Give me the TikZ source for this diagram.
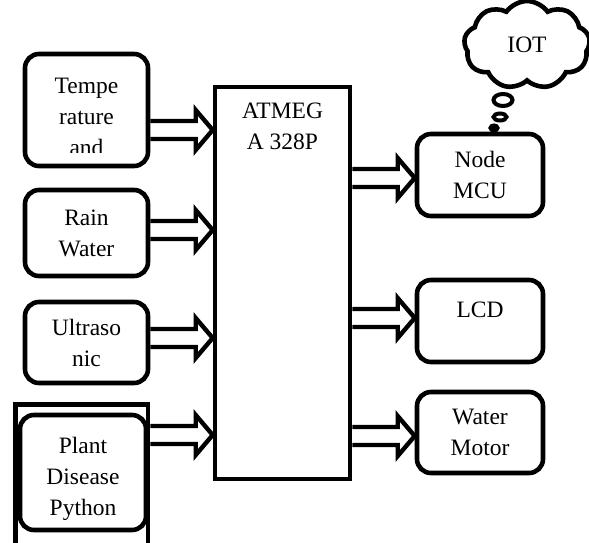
\documentclass[tikz,border=0pt]{standalone}
\usepackage{fontspec}
\setmainfont{Liberation Serif}
\usetikzlibrary{calc,shapes.geometric,shapes.symbols}

\tikzset{
  box/.style={draw, line width=4.6pt, rounded corners=14pt, minimum width=126pt, align=center, inner sep=0pt},
  chip/.style={draw, line width=4.6pt, minimum width=135pt, minimum height=392pt},
  fat/.style={line width=4.4pt, to path={let \p1=(\tikztostart), \p2=(\tikztotarget) in
    (\x1,\y1+9pt) -- (\x2-17pt,\y1+9pt) -- (\x2-17pt,\y1+20pt) -- (\x2,\y1)
    -- (\x2-17pt,\y1-20pt) -- (\x2-17pt,\y1-9pt) -- (\x1,\y1-9pt)}},
  bubble/.style={draw, ellipse, line width=4pt, inner sep=0pt},
}

\begin{document}
\begin{tikzpicture}[x=1pt,y=-1pt,font=\fontsize{23.5}{31}\selectfont]
\useasboundingbox (0,0) rectangle (589,542);

% inputs
\node[box, minimum width=123pt, minimum height=112pt] (temp) at (86.5,110) {};
\begin{scope}
\clip (temp.north west) rectangle ([yshift=16pt]temp.south east);
\node[align=center, inner sep=0pt] (temptxt) at ([yshift=-7pt]temp.center) {Tempe\\rature\\and};
\end{scope}
\node[box, minimum width=123pt, minimum height=86pt, text depth=0pt] (rain) at (86.5,233) {Rain\\Water};
\node[box, minimum width=123pt, minimum height=81pt, text depth=0pt] (ultra) at (86.5,342.5) {Ultraso\\nic};
\node[draw, line width=4.6pt, minimum width=132.5pt, minimum height=144pt] (frame) at (81.75,476.5) {};
\node[box, minimum height=115pt] (plant) at (83,472.5) {};
\node[align=center, inner sep=0pt] (planttxt) at ([yshift=-6pt]plant.center) {Plant\\Disease\\Python};

% controller
\node[chip] (atm) at (282.5,283) {};
\node[align=center, anchor=north, inner sep=0pt] (atmtxt) at (282.5,103) {ATMEG\\A 328P};

% outputs
\node[box, minimum height=82pt] (mcu) at (480,175) {Node\\MCU};
\node[box, minimum height=82pt, text depth=22pt] (lcd) at (480,321) {LCD};
\node[box, minimum height=81pt] (motor) at (480,432.5) {Water\\Motor};

% cloud
\node[cloud, draw, line width=4.6pt, cloud puffs=9, cloud puff arc=110, aspect=1.45, minimum width=126pt, minimum height=88pt, inner sep=0pt] (iot) at (527,45) {IOT};
\node[bubble, minimum width=19pt, minimum height=12pt] (b1) at (503,100) {};
\node[bubble, minimum width=13pt, minimum height=7pt] (b2) at (500,117) {};
\node[bubble, fill, minimum width=7pt, minimum height=5pt] (b3) at (494,128) {};

% connections
\coordinate (in1) at (atm.west |- 0,130);
\coordinate (in2) at (atm.west |- 0,230);
\coordinate (in3) at (atm.west |- 0,338);
\coordinate (in4) at (atm.west |- 0,435);
\coordinate (out1) at (mcu.west |- 0,178);
\coordinate (out2) at (lcd.west |- 0,318);
\coordinate (out3) at (motor.west |- 0,436);

\draw[fat] (temp.east |- in1) to (in1);
\draw[fat] (rain.east |- in2) to (in2);
\draw[fat] (ultra.east |- in3) to (in3);
\draw[fat] (frame.east |- in4) to (in4);
\draw[fat] (atm.east |- out1) to (out1);
\draw[fat] (atm.east |- out2) to (out2);
\draw[fat] (atm.east |- out3) to (out3);
\end{tikzpicture}
\end{document}
